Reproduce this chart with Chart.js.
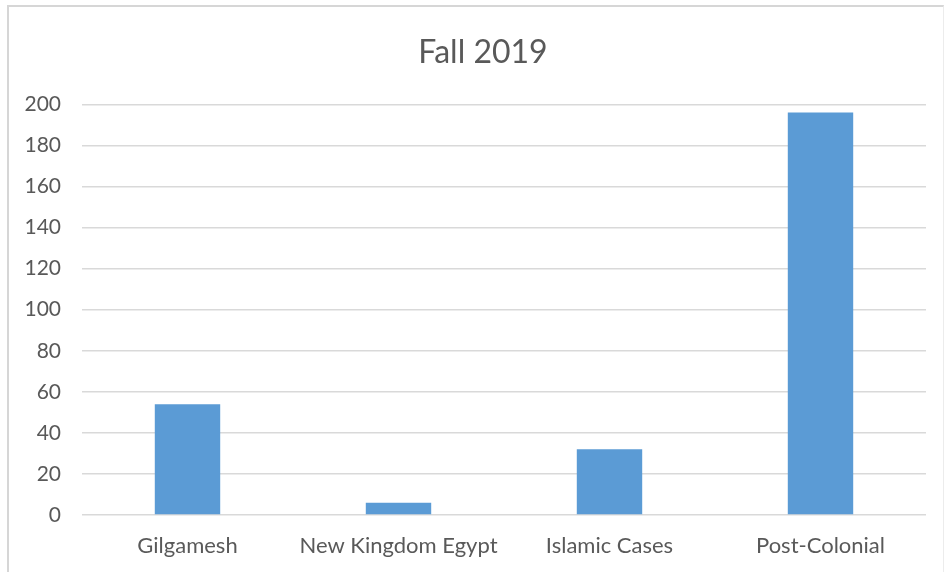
<!DOCTYPE html>
<html>
<head>
<meta charset="utf-8">
<script src="https://cdn.jsdelivr.net/npm/chart.js@4"></script>
<style>
  html, body { margin: 0; padding: 0; background: #ffffff; }
  #wrap { position: relative; width: 949px; height: 572px; overflow: hidden; background: #fff; }
  #frame { position: absolute; left: 7px; top: 5px; width: 934px; height: 600px;
           border-left: 2px solid #d6d6d6; border-top: 2px solid #d6d6d6; border-right: 1px solid #ececec; }
  canvas { position: absolute; left: 0; top: 0; }
</style>
</head>
<body>
<div id="wrap">
  <div id="frame"></div>
  <canvas id="c" width="949" height="572"></canvas>
</div>
<script>
const titleText = "Fall 2019";
const categories = ["Gilgamesh", "New Kingdom Egypt", "Islamic Cases", "Post-Colonial"];
const values = [54, 6, 32, 196];
const yMin = 0;
const yMax = 200;
const yStep = 20;

const shiftTitle = {
  id: 'shiftTitle',
  afterLayout(chart) {
    if (chart.titleBlock) {
      chart.titleBlock.left += 40;
    }
  }
};

const ctx = document.getElementById('c');
new Chart(ctx, {
  type: 'bar',
  data: {
    labels: categories,
    datasets: [{
      data: values,
      backgroundColor: '#5b9bd5',
      borderWidth: 0,
      categoryPercentage: 1,
      barPercentage: 0.31
    }]
  },
  plugins: [shiftTitle],
  options: {
    responsive: false,
    animation: false,
    devicePixelRatio: 1,
    layout: { padding: { left: 0, right: 23, top: 0, bottom: 0 } },
    plugins: {
      legend: { display: false },
      tooltip: { enabled: false },
      title: {
        display: true,
        text: titleText,
        color: '#595959',
        font: { family: 'Lato', size: 32, weight: 'normal' },
        padding: { top: 33, bottom: 33 }
      }
    },
    scales: {
      x: {
        afterFit: (s) => { s.height = 57; },
        grid: { display: false, drawTicks: false },
        border: { display: false },
        ticks: {
          color: '#595959',
          font: { family: 'Lato', size: 22 },
          padding: 18,
          maxRotation: 0
        }
      },
      y: {
        min: yMin,
        max: yMax,
        afterFit: (s) => { s.width = 82; },
        grid: { color: '#d9d9d9', lineWidth: 1.5, drawTicks: false },
        border: { display: false },
        ticks: {
          stepSize: yStep,
          color: '#595959',
          font: { family: 'Lato', size: 21 },
          padding: 21
        }
      }
    }
  }
});
</script>
</body>
</html>
